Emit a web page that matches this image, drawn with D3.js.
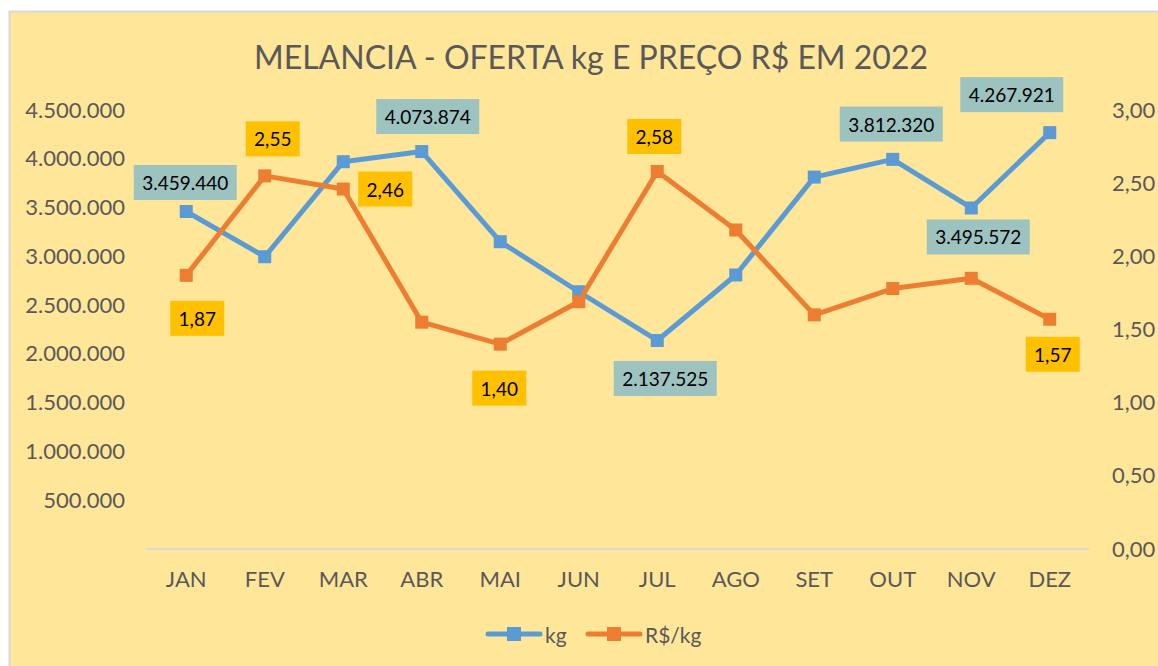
<!DOCTYPE html>
<html>
<head>
<meta charset="utf-8">
<script src="https://cdn.jsdelivr.net/npm/d3@7"></script>
<style>
  body { margin: 0; background: #fff; }
  svg { display: block; font-family: Lato, "Open Sans", sans-serif; }
</style>
</head>
<body>
<script>
(function () {
    var months = ["JAN", "FEV", "MAR", "ABR", "MAI", "JUN", "JUL", "AGO", "SET", "OUT", "NOV", "DEZ"];
    var kg = [3459440, 2996000, 3970000, 4073874, 3150000, 2637000, 2137525, 2809000, 3812320, 3994000, 3495572, 4267921];
    var price = [1.87, 2.55, 2.46, 1.55, 1.40, 1.69, 2.58, 2.18, 1.60, 1.78, 1.85, 1.57];
    var kgTicks = [500000, 1000000, 1500000, 2000000, 2500000, 3000000, 3500000, 4000000, 4500000];
    var priceTicks = [0, 0.5, 1, 1.5, 2, 2.5, 3];
    var title = "MELANCIA - OFERTA kg E PREÇO R$ EM 2022";
    var seriesNames = ["kg", "R$/kg"];

    // which points carry a label, and where the box sits relative to the point
    var kgLabels = [
        { i: 0, dx: -1, dy: -29 },
        { i: 3, dx: 6, dy: -35 },
        { i: 6, dx: 8, dy: 38 },
        { i: 8, dx: 77, dy: -53 },
        { i: 10, dx: 7, dy: 29 },
        { i: 11, dx: -38, dy: -38 }
    ];
    var priceLabels = [
        { i: 0, dx: 11, dy: 43 },
        { i: 1, dx: 8, dy: -37 },
        { i: 2, dx: 42, dy: 0 },
        { i: 4, dx: -1, dy: 44 },
        { i: 6, dx: -3, dy: -35 },
        { i: 11, dx: 3, dy: 35 }
    ];

    var width = 1158, height = 666;
    var blue = "#5B9BD5", orange = "#ED7D31";
    var axisColor = "#595959";

    var br = d3.formatLocale({ decimal: ",", thousands: ".", grouping: [3], currency: ["R$", ""] });
    var fmtKg = br.format(",.0f");
    var fmtPrice = br.format(",.2f");

    var svg = d3.select("body").append("svg")
        .attr("width", width)
        .attr("height", height);

    svg.append("rect")
        .attr("x", 9.5).attr("y", 11.5)
        .attr("width", width).attr("height", height)
        .attr("fill", "#FFE699")
        .attr("stroke", "#D9D9D9")
        .attr("stroke-width", 2);

    svg.append("text")
        .attr("x", 591).attr("y", 69)
        .attr("text-anchor", "middle")
        .attr("fill", axisColor)
        .style("font-size", "32px")
        .text(title);

    var x = d3.scaleBand().domain(months).range([147, 1089]);
    var yL = d3.scaleLinear().domain([0, 4500000]).range([549, 110]);
    var yR = d3.scaleLinear().domain([0, 3]).range([549, 110]);

    // baseline
    svg.append("line")
        .attr("x1", x.range()[0]).attr("x2", x.range()[1])
        .attr("y1", yL(0)).attr("y2", yL(0))
        .attr("stroke", "#D9D9D9").attr("stroke-width", 2);

    var xAxis = svg.append("g")
        .attr("transform", "translate(0," + yL(0) + ")")
        .call(d3.axisBottom(x).tickSize(0).tickPadding(22));
    var yAxisL = svg.append("g")
        .attr("transform", "translate(125,0)")
        .call(d3.axisLeft(yL).tickValues(kgTicks).tickFormat(fmtKg).tickSize(0).tickPadding(0));
    var yAxisR = svg.append("g")
        .attr("transform", "translate(1112,0)")
        .call(d3.axisRight(yR).tickValues(priceTicks).tickFormat(fmtPrice).tickSize(0).tickPadding(0));

    [xAxis, yAxisL, yAxisR].forEach(function (g) {
        g.select(".domain").remove();
        g.selectAll("text")
            .attr("fill", axisColor)
            .style("font-size", "22px")
            .style("font-family", "Lato, sans-serif");
    });

    function drawSeries(values, scale, color) {
        var line = d3.line()
            .x(function (d, i) { return x(months[i]) + x.bandwidth() / 2; })
            .y(function (d) { return scale(d); });
        svg.append("path")
            .attr("d", line(values))
            .attr("fill", "none")
            .attr("stroke", color)
            .attr("stroke-width", 5)
            .attr("stroke-linejoin", "round")
            .attr("stroke-linecap", "round");
        svg.append("g").selectAll("rect")
            .data(values)
            .join("rect")
            .attr("x", function (d, i) { return x(months[i]) + x.bandwidth() / 2 - 6.5; })
            .attr("y", function (d) { return scale(d) - 6.5; })
            .attr("width", 13).attr("height", 13)
            .attr("fill", color);
    }
    drawSeries(kg, yL, blue);
    drawSeries(price, yR, orange);

    function drawLabels(list, values, scale, fmt, bg, boxW) {
        var g = svg.append("g");
        list.forEach(function (l) {
            var cx = x(months[l.i]) + x.bandwidth() / 2 + l.dx;
            var cy = scale(values[l.i]) + l.dy;
            g.append("rect")
                .attr("x", cx - boxW / 2).attr("y", cy - 17.5)
                .attr("width", boxW).attr("height", 35)
                .attr("fill", bg);
            g.append("text")
                .attr("x", cx).attr("y", cy)
                .attr("text-anchor", "middle")
                .attr("dominant-baseline", "central")
                .attr("fill", "#000")
                .style("font-size", "19px")
                .text(fmt(values[l.i]));
        });
    }
    drawLabels(kgLabels, kg, yL, fmtKg, "#9DC3C1", 103);
    drawLabels(priceLabels, price, yR, fmtPrice, "#FFC000", 54);

    // legend
    var legend = svg.append("g");
    var items = [
        { name: seriesNames[0], color: blue, x: 486 },
        { name: seriesNames[1], color: orange, x: 586 }
    ];
    items.forEach(function (it) {
        legend.append("line")
            .attr("x1", it.x + 2).attr("x2", it.x + 54)
            .attr("y1", 634).attr("y2", 634)
            .attr("stroke", it.color).attr("stroke-width", 5)
            .attr("stroke-linecap", "round");
        legend.append("rect")
            .attr("x", it.x + 21).attr("y", 627)
            .attr("width", 14).attr("height", 14)
            .attr("fill", it.color);
        legend.append("text")
            .attr("x", it.x + 59).attr("y", 634)
            .attr("dominant-baseline", "central")
            .attr("fill", axisColor)
            .style("font-size", "21px")
            .text(it.name);
    });
})();
</script>
</body>
</html>
